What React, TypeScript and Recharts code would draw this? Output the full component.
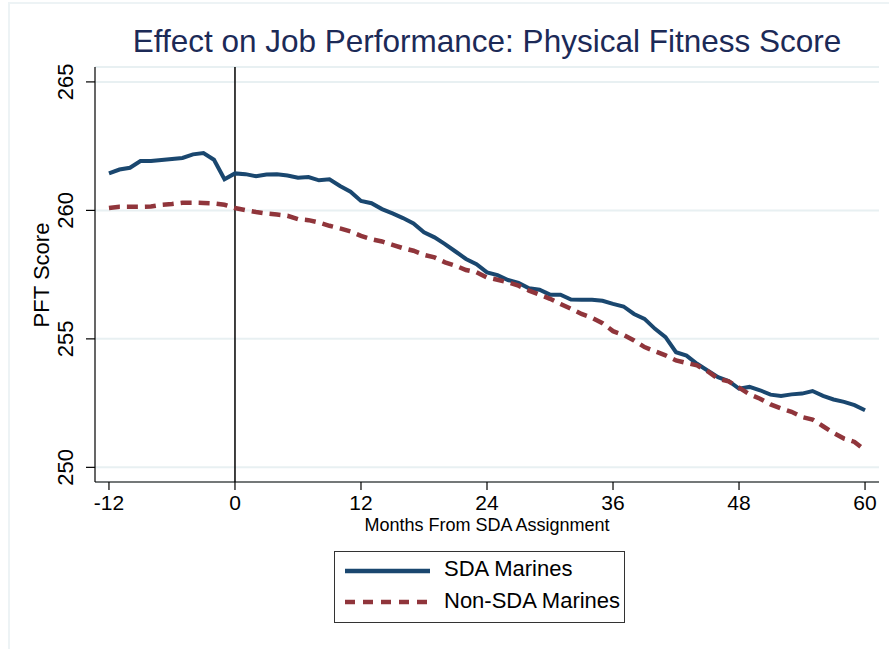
import React from 'react';
import {
  LineChart, Line, XAxis, YAxis, CartesianGrid, ReferenceLine, Legend
} from 'recharts';

const months = [
  -12, -11, -10, -9, -8, -7, -6, -5, -4, -3, -2, -1,
  0, 1, 2, 3, 4, 5, 6, 7, 8, 9, 10, 11,
  12, 13, 14, 15, 16, 17, 18, 19, 20, 21, 22, 23,
  24, 25, 26, 27, 28, 29, 30, 31, 32, 33, 34, 35,
  36, 37, 38, 39, 40, 41, 42, 43, 44, 45, 46, 47,
  48, 49, 50, 51, 52, 53, 54, 55, 56, 57, 58, 59, 60
];

const sdaMarines = [
  261.44, 261.59, 261.66, 261.92, 261.92, 261.96, 262.0, 262.04, 262.18, 262.23, 261.97, 261.21,
  261.44, 261.41, 261.33, 261.4, 261.41, 261.36, 261.27, 261.3, 261.17, 261.21, 260.95, 260.73,
  260.37, 260.28, 260.05, 259.88, 259.7, 259.49, 259.15, 258.95, 258.69, 258.4, 258.11, 257.91,
  257.59, 257.48, 257.29, 257.18, 256.97, 256.91, 256.72, 256.72, 256.53, 256.52, 256.52, 256.48,
  256.36, 256.26, 255.97, 255.78, 255.39, 255.07, 254.48, 254.35, 254.03, 253.77, 253.51, 253.36,
  253.06, 253.13, 253.0, 252.83, 252.78, 252.84, 252.87, 252.97, 252.78, 252.64, 252.55, 252.42, 252.22
];

const nonSdaMarines = [
  260.09, 260.14, 260.14, 260.14, 260.15, 260.22, 260.25, 260.3, 260.3, 260.29, 260.27, 260.22,
  260.09, 260.01, 259.94, 259.88, 259.84, 259.79, 259.66, 259.62, 259.53, 259.4, 259.3, 259.18,
  259.01, 258.88, 258.79, 258.66, 258.53, 258.43, 258.27, 258.17, 257.98, 257.85, 257.68, 257.59,
  257.39, 257.3, 257.2, 257.07, 256.88, 256.72, 256.56, 256.36, 256.17, 255.97, 255.82, 255.61,
  255.3, 255.15, 254.94, 254.68, 254.52, 254.36, 254.16, 254.06, 253.97, 253.74, 253.45, 253.35,
  253.1, 252.84, 252.67, 252.45, 252.29, 252.16, 251.96, 251.86, 251.6, 251.34, 251.12, 250.99, 250.67
];

const xTicks = [-12, 0, 12, 24, 36, 48, 60];
const yTicks = [250, 255, 260, 265];

const series = [
  { key: 'sda', name: 'SDA Marines', color: '#1a476f', dash: undefined as string | undefined },
  { key: 'nonSda', name: 'Non-SDA Marines', color: '#90353b', dash: '11 7' },
];

const data = months.map((m, i) => ({
  month: m,
  sda: sdaMarines[i],
  nonSda: nonSdaMarines[i],
}));

const FONT = '"Liberation Sans", Arial, sans-serif';

const XTick = (props: any) => {
  const { x, payload } = props;
  return (
    <text x={x} y={510} textAnchor="middle" fontSize={21} fontFamily={FONT} fill="#000">
      {payload.value}
    </text>
  );
};

const YTick = (props: any) => {
  const { y, payload } = props;
  return (
    <text x={73} y={y} transform={`rotate(-90, 73, ${y})`} textAnchor="middle"
      fontSize={22} fontFamily={FONT} fill="#000">
      {payload.value}
    </text>
  );
};

const renderLegend = () => (
  <div style={{
    width: 291, height: 72, border: '1px solid #333', boxSizing: 'border-box',
    background: '#fff'
  }}>
    <svg width={289} height={70}>
      {series.map((s, i) => (
        <g key={s.key}>
          <line x1={10} x2={95} y1={19 + i * 31} y2={19 + i * 31}
            stroke={s.color} strokeWidth={4.5} strokeDasharray={s.dash ? '10 8' : undefined} />
          <text x={109} y={24 + i * 32} fontSize={22} fontFamily={FONT} fill="#000">
            {s.name}
          </text>
        </g>
      ))}
    </svg>
  </div>
);

export default function App() {
  return (
    <div style={{
      position: 'absolute', left: 0, top: 0, width: 889, height: 649,
      background: '#fff', overflow: 'hidden', fontFamily: FONT
    }}>
      <div style={{
        position: 'absolute', left: 8, top: 2, width: 1000, height: 1000,
        borderLeft: '2px solid #edf3f5', borderTop: '2px solid #edf3f5'
      }} />
      <svg width={889} height={70} style={{ position: 'absolute', left: 0, top: 0 }}>
        <text x={487} y={52} textAnchor="middle" fontSize={31.5} fontFamily={FONT} fill="#1c2a57">
          Effect on Job Performance: Physical Fitness Score
        </text>
      </svg>
      <div style={{ position: 'absolute', left: 0, top: 0 }}>
        <LineChart width={889} height={649} data={data}
          margin={{ top: 67, right: 10, left: 15, bottom: 107 }}>
          <CartesianGrid horizontal vertical={false} stroke="#e8f0f2" strokeWidth={2} />
          <XAxis dataKey="month" type="number" domain={[-13.33, 61.33]} allowDataOverflow
            ticks={xTicks} interval={0} height={60} tick={<XTick />} tickSize={8}
            axisLine={{ stroke: '#000', strokeWidth: 1.2 }} tickLine={{ stroke: '#000', strokeWidth: 1.2 }}
            label={() => (
              <text x={487} y={531} textAnchor="middle" fontSize={18} fontFamily={FONT} fill="#000">
                Months From SDA Assignment
              </text>
            )}
          />
          <YAxis type="number" domain={[249.43, 265.58]} allowDataOverflow ticks={yTicks}
            interval={0} width={80} tick={<YTick />} tickSize={9}
            axisLine={{ stroke: '#000', strokeWidth: 1.2 }} tickLine={{ stroke: '#000', strokeWidth: 1.2 }}
            label={() => (
              <text x={49} y={275} transform="rotate(-90, 49, 275)" textAnchor="middle"
                fontSize={22} fontFamily={FONT} fill="#000">
                PFT Score
              </text>
            )}
          />
          <ReferenceLine x={0} stroke="#000" strokeWidth={1.5} />
          {series.map((s) => (
            <Line key={s.key} type="linear" dataKey={s.key} name={s.name} stroke={s.color}
              strokeWidth={s.dash ? 4.5 : 4} strokeDasharray={s.dash} dot={false}
              isAnimationActive={false} />
          ))}
          <Legend layout="horizontal" verticalAlign="middle" align="center"
            content={renderLegend}
            wrapperStyle={{ position: 'absolute', left: 334, top: 551, width: 291, height: 72 }} />
        </LineChart>
      </div>
    </div>
  );
}
